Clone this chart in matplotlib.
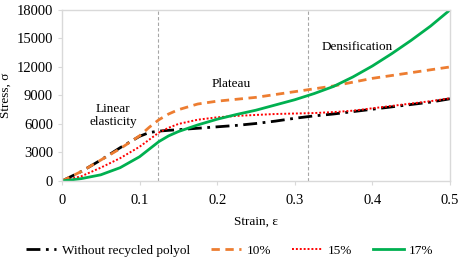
import matplotlib
matplotlib.use("Agg")
import matplotlib.pyplot as plt

strain = [0, 0.025, 0.05, 0.075, 0.1, 0.1125, 0.125, 0.1375, 0.15, 0.175, 0.2, 0.225, 0.25,
          0.275, 0.3, 0.325, 0.35, 0.375, 0.4, 0.425, 0.45, 0.475, 0.5]
without = [0, 1000, 2200, 3500, 4700, 5100, 5250, 5330, 5400, 5550, 5700, 5850, 6050,
           6300, 6600, 6850, 7050, 7300, 7550, 7800, 8050, 8300, 8650]
p10 = [0, 1000, 2200, 3400, 4750, 5650, 6450, 7050, 7500, 8100, 8400, 8600, 8800,
       9100, 9400, 9700, 10000, 10400, 10800, 11100, 11400, 11700, 12000]
p15 = [0, 500, 1400, 2400, 3600, 4350, 5100, 5600, 6000, 6450, 6700, 6850, 6950,
       7050, 7100, 7150, 7250, 7400, 7650, 7900, 8150, 8400, 8700]
p17 = [0, 250, 650, 1400, 2550, 3350, 4150, 4750, 5200, 5900, 6500, 7000, 7450,
       8000, 8550, 9200, 9950, 10950, 12100, 13400, 14800, 16300, 18000]

phase_bounds = [0.124, 0.317]
phase_labels = ["Linear\nelasticity", "Plateau", "Densification"]
phase_label_pos = [(0.066, 6850), (0.218, 10200), (0.380, 14100)]

plt.rcParams['font.family'] = ['Liberation Serif', 'DejaVu Serif']
fig = plt.figure(figsize=(4.62, 2.61), dpi=100)
ax = fig.add_axes([0.134, 0.3065, 0.84, 0.6555])

ax.plot(strain, without, color='black', lw=2, ls=(0, (5, 2, 1, 2)),
        label='Without recycled polyol')
ax.plot(strain, p10, color='#ED7D31', lw=2, ls=(0, (3, 2)), label='10%')
ax.plot(strain, p15, color='#FF0000', lw=1.4, ls=(0, (1, 1)), label='15%')
ax.plot(strain, p17, color='#00B050', lw=2, ls='-', label='17%')

for b in phase_bounds:
    ax.axvline(b, color='#A6A6A6', lw=0.8, ls=(0, (3, 2)), zorder=0)
for t, (x, y) in zip(phase_labels, phase_label_pos):
    ax.text(x, y, t, ha='center', va='center', fontsize=9.5, linespacing=1.1)

ax.set_xlim(0, 0.5)
ax.set_ylim(0, 18000)
ax.set_xticks([0, 0.1, 0.2, 0.3, 0.4, 0.5])
ax.set_xticklabels(['0', '0.1', '0.2', '0.3', '0.4', '0.5'])
ax.set_yticks(range(0, 18001, 3000))
for s in ax.spines.values():
    s.set_color('#D9D9D9')
    s.set_linewidth(1)
ax.tick_params(colors='#D9D9D9', labelcolor='black', labelsize=10.5, length=3)
ax.tick_params(axis='x', pad=6)
ax.set_xlabel('Strain, ε', fontsize=9.5, labelpad=7)
ax.set_ylabel('Stress, σ', fontsize=9.5, labelpad=3)

fig.legend(loc='center', bbox_to_anchor=(0.497, 0.04), ncol=4, frameon=False,
           fontsize=9.5, handlelength=2.3, columnspacing=1.6, handletextpad=0.4)

fig.savefig('out.png', dpi=100)
